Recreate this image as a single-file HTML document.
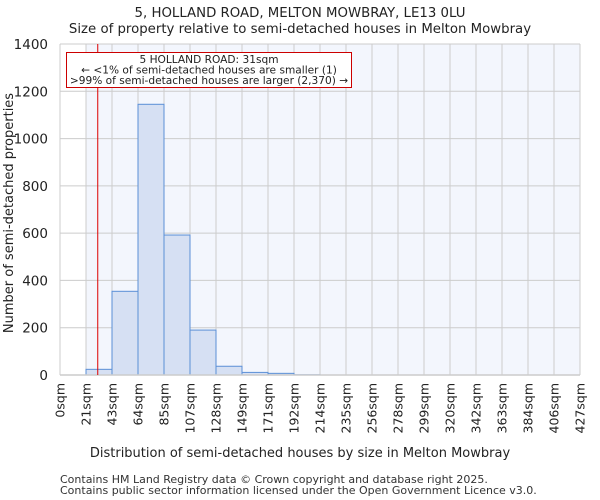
<!DOCTYPE html>
<html><head><meta charset="utf-8"><style>
body{margin:0;background:#fff;}
svg{display:block;font-family:"DejaVu Sans","Liberation Sans",sans-serif;}
</style></head><body>
<svg id="c" width="600" height="500" viewBox="0 0 600 500">
<text x="300" y="17" text-anchor="middle" font-size="13.3" fill="#222">5, HOLLAND ROAD, MELTON MOWBRAY, LE13 0LU</text>
<text x="300" y="33" text-anchor="middle" font-size="13.3" fill="#222">Size of property relative to semi-detached houses in Melton Mowbray</text>
<g id="plot"></g>
<text transform="translate(13,213) rotate(-90)" text-anchor="middle" font-size="13" fill="#222">Number of semi-detached properties</text>
<text x="300" y="457" text-anchor="middle" font-size="13" fill="#222">Distribution of semi-detached houses by size in Melton Mowbray</text>
<text x="60" y="483" font-size="11" fill="#333">Contains HM Land Registry data © Crown copyright and database right 2025.</text>
<text x="60" y="494" font-size="11" fill="#333">Contains public sector information licensed under the Open Government Licence v3.0.</text>
</svg>
<script>
const binLabels=["0sqm","21sqm","43sqm","64sqm","85sqm","107sqm","128sqm","149sqm","171sqm","192sqm","214sqm","235sqm","256sqm","278sqm","299sqm","320sqm","342sqm","363sqm","384sqm","406sqm","427sqm"];
const binEdges=[0,21.35,42.7,64.05,85.4,106.75,128.1,149.45,170.8,192.15,213.5,234.85,256.2,277.55,298.9,320.25,341.6,362.95,384.3,405.65,427];
const counts=[0,24,354,1145,592,190,37,11,7,1,0,0,0,0,0,0,0,0,0,0];
const yTicks=[0,200,400,600,800,1000,1200,1400];
const propertySize=31;
const L=60,R=580,T=44,B=375,xMax=427,yMax=1400;
const xs=v=>L+v/xMax*(R-L), ys=v=>B-v/yMax*(B-T);
const NS="http://www.w3.org/2000/svg", g=document.getElementById('plot');
function mk(t,a,txt){const e=document.createElementNS(NS,t);for(const k in a)e.setAttribute(k,a[k]);if(txt!=null)e.textContent=txt;g.appendChild(e);return e;}
let e=mk('rect',{x:xs(binEdges[1]),y:T,width:R-xs(binEdges[1]),height:B-T,fill:'#f3f6fd'});


yTicks.forEach(t=>{
 e=mk('line',{x1:L,x2:R,y1:ys(t),y2:ys(t),stroke:'#ccc','stroke-width':1});
 
 
 e=mk('text',{x:L-12,y:ys(t)+5,'text-anchor':'end','font-size':13.5,fill:'#222'},t);
 
 
});
binEdges.forEach((v,i)=>{
 e=mk('line',{x1:xs(v),x2:xs(v),y1:T,y2:B,stroke:'#ccc','stroke-width':1});
 
 
 const x=xs(v);
 e=mk('text',{transform:`translate(${x+4.5},${B+8}) rotate(-90)`,'text-anchor':'end','font-size':12.5,fill:'#222'},binLabels[i]);
 
 
});
counts.forEach((c,i)=>{
 if(c<=0)return;
 e=mk('rect',{x:xs(binEdges[i]),y:ys(c),width:xs(binEdges[i+1])-xs(binEdges[i]),height:B-ys(c),fill:'#d6e0f3',stroke:'#5b8fd6','stroke-width':1});
 
 
});
e=mk('line',{x1:L,x2:R,y1:B,y2:B,stroke:'#ccc','stroke-width':1.5});


e=mk('line',{x1:xs(propertySize),x2:xs(propertySize),y1:T,y2:B,stroke:'#d00','stroke-width':1});


e=mk('rect',{x:66.5,y:52.5,width:285,height:35,fill:'#fff',stroke:'#c00','stroke-width':1});


const ann=["5 HOLLAND ROAD: 31sqm","← <1% of semi-detached houses are smaller (1)",">99% of semi-detached houses are larger (2,370) →"];
ann.forEach((s,i)=>{
 e=mk('text',{x:209,y:63+i*10.5,'text-anchor':'middle','font-size':10.6,fill:'#222'},s);
 
 
});
</script>
</body></html>
